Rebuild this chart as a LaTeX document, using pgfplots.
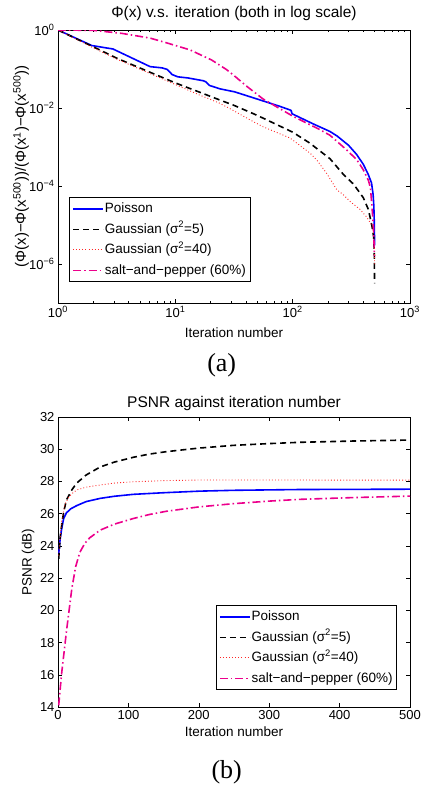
\documentclass[border=0pt]{standalone}
\usepackage{fontspec}
\setmainfont{Liberation Sans}
\newfontfamily\capfont{Liberation Serif}
\usepackage{pgfplots}
\pgfplotsset{compat=1.18}

\pgfplotsset{
  matfig/.style={
    scale only axis, width=352pt,
    axis line style={line width=0.7pt},
    tick align=inside, xtick pos=both, ytick pos=both,
    xticklabel pos=lower, yticklabel pos=left,
    major tick length=4pt, minor tick length=2pt,
    every tick/.style={black, line width=0.5pt},
    tick label style={font=\fontsize{13}{15}\selectfont},
    label style={font=\fontsize{13.5}{16}\selectfont},
    title style={font=\fontsize{15.5}{18}\selectfont, anchor=base, at={(axis description cs:0.5,1)}},
    /pgf/number format/assume math mode=true,
    legend cell align=left,
    legend image code/.code={\draw[##1] (2pt,0pt) -- (32pt,0pt);},
    legend style={draw=black, line width=0.6pt, fill=white, inner sep=3pt,
      row sep=4pt, column sep=0pt,
      font=\fontsize{13.5}{16}\selectfont,
      nodes={inner sep=1pt, text height=11pt, text depth=3.5pt}},
  },
  poisson/.style={blue, line width=1.6pt},
  gauss5/.style={black, line width=1.6pt, dash pattern=on 6pt off 4pt},
  gauss40/.style={red!85, line width=0.9pt, dash pattern=on 0.9pt off 2.2pt},
  saltpep/.style={magenta, line width=1.6pt, dash pattern=on 8pt off 3pt on 1.5pt off 3pt},
}

\begin{document}
\begin{tikzpicture}
\path[use as bounding box] (0pt,0pt) rectangle (421pt,-790pt);

% (a) objective decrease, log-log
\begin{axis}[matfig, at={(58pt,-30pt)}, anchor=north west, height=273pt,
  xmode=log, ymode=log, xmin=1, xmax=1000, ymin=1e-7, ymax=1,
  xtick={1,10,100,1000},
  xticklabels={10\textsuperscript{0},10\textsuperscript{1},10\textsuperscript{2},10\textsuperscript{3}},
  minor xtick={2,3,4,5,6,7,8,9,20,30,40,50,60,70,80,90,200,300,400,500,600,700,800,900},
  ytick={1e-6,1e-4,1e-2,1},
  yticklabels={10\textsuperscript{−6},10\textsuperscript{−4},10\textsuperscript{−2},10\textsuperscript{0}},
  title={Φ(x) v.s. iteration (both in log scale)}, title style={yshift=7pt},
  xlabel={Iteration number},
  xlabel style={at={(axis description cs:0.5,0)}, anchor=base, yshift=-34pt},
  ylabel={(Φ(x)−Φ(x\textsuperscript{500}))/(Φ(x\textsuperscript{1})−Φ(x\textsuperscript{500}))},
  ylabel style={at={(axis description cs:-0.105,0.5)}, anchor=center, font=\fontsize{15}{17}\selectfont},
  legend style={at={(axis description cs:0.031,0.077)}, anchor=south west},
]
\addplot[poisson] coordinates {(1,1) (1.5,0.57) (1.94,0.40) (2.4,0.36) (2.94,0.326) (4,0.21) (6.1,0.115) (7.7,0.107) (8.5,0.098) (9.4,0.072) (10.5,0.063) (12.8,0.059) (17.3,0.050) (18.2,0.047) (19.5,0.038) (24,0.031) (32,0.026) (53,0.016) (78,0.011) (95,0.0089) (97,0.0086) (99,0.0071) (150,0.0039) (208,0.0025) (240,0.0019) (300,0.0011) (350,6.5e-4) (400,3.6e-4) (440,2.0e-4) (470,1.2e-4) (485,6e-5) (492,3e-5) (496,1.2e-5) (498,5e-6) (499,3e-6)};
\addlegendentry{Poisson}
\addplot[gauss5] coordinates {(1,1) (2,0.37) (3.16,0.19) (6.3,0.079) (10,0.044) (15.8,0.026) (24,0.016) (31.6,0.0117) (46,0.0072) (56,0.0055) (100,0.0024) (140,0.00126) (170,8e-4) (208,5e-4) (270,2e-4) (330,1.12e-4) (376,6.5e-5) (400,5e-5) (442,2.5e-5) (472,1e-5) (490,5e-6) (496,2e-6) (499,3.2e-7)};
\addlegendentry{Gaussian (σ\textsuperscript{2}=5)}
\addplot[gauss40] coordinates {(1,1) (2,0.35) (3.16,0.18) (6.3,0.073) (10,0.040) (15.8,0.022) (24,0.0132) (30,0.0092) (46,0.0045) (56,0.0033) (95,0.0017) (141,6.9e-4) (160,4.7e-4) (195,2.1e-4) (238,8e-5) (270,6e-5) (309,4e-5) (376,2.5e-5) (427,1.6e-5) (472,1e-5) (490,6e-6) (496,3e-6) (499,1e-6)};
\addlegendentry{Gaussian (σ\textsuperscript{2}=40)}
\addplot[saltpep] coordinates {(1,1) (2,0.98) (3.5,0.82) (6.1,0.62) (8.4,0.47) (13.3,0.31) (20.4,0.17) (27.4,0.096) (32,0.066) (40.6,0.036) (56,0.017) (64,0.0135) (100,0.0062) (170,0.0028) (208,0.002) (290,8.3e-4) (352,4.7e-4) (400,2.6e-4) (442,1.4e-4) (460,9e-5) (472,3.6e-5) (488,9e-6) (498,1.6e-6)};
\addlegendentry{salt−and−pepper (60\%)}
\end{axis}

% (b) PSNR
\begin{axis}[matfig, at={(58pt,-417pt)}, anchor=north west, height=290pt,
  xmin=0, xmax=500, ymin=14, ymax=32,
  xtick={0,100,200,300,400,500}, ytick={14,16,18,20,22,24,26,28,30,32},
  title={PSNR against iteration number}, title style={yshift=4pt},
  xlabel={Iteration number},
  xlabel style={at={(axis description cs:0.5,0)}, anchor=base, yshift=-29pt},
  ylabel={PSNR (dB)},
  ylabel style={at={(axis description cs:-0.085,0.5)}, anchor=center},
  legend style={at={(axis description cs:0.963,0.059)}, anchor=south east},
]
\addplot[poisson] coordinates {(1,23.5) (3,24.4) (5,25.0) (8,25.7) (12,26.05) (18,26.3) (26.6,26.5) (40,26.75) (60,26.95) (80,27.08) (107,27.2) (150,27.3) (202,27.4) (250,27.45) (344,27.5) (500,27.52)};
\addlegendentry{Poisson}
\addplot[gauss5] coordinates {(1,23.2) (3,24.5) (5,25.2) (8,26.1) (12,26.85) (20,27.5) (26.6,27.9) (40,28.4) (60,28.9) (80,29.2) (107,29.5) (130,29.7) (154,29.85) (200,30.07) (249,30.24) (300,30.35) (344,30.43) (420,30.51) (500,30.57)};
\addlegendentry{Gaussian (σ\textsuperscript{2}=5)}
\addplot[gauss40] coordinates {(1,23.4) (5,25.5) (10,26.6) (15,27.0) (20,27.25) (26.6,27.47) (40,27.65) (60,27.78) (80,27.9) (107,27.98) (150,28.05) (202,28.09) (300,28.09) (500,28.08)};
\addlegendentry{Gaussian (σ\textsuperscript{2}=40)}
\addplot[saltpep] coordinates {(1,14.1) (2,14.6) (5.2,16.1) (12.3,18.8) (19.5,21.3) (25,22.7) (31,23.6) (38,24.15) (45,24.5) (60,24.98) (80,25.35) (107,25.7) (130,25.95) (154,26.15) (200,26.42) (249,26.62) (300,26.78) (344,26.89) (420,27.0) (500,27.09)};
\addlegendentry{salt−and−pepper (60\%)}
\end{axis}

\node[font=\capfont\fontsize{26}{28}\selectfont] at (221.7pt,-365pt) {(a)};
\node[font=\capfont\fontsize{26}{28}\selectfont] at (226.7pt,-772pt) {(b)};
\end{tikzpicture}
\end{document}
